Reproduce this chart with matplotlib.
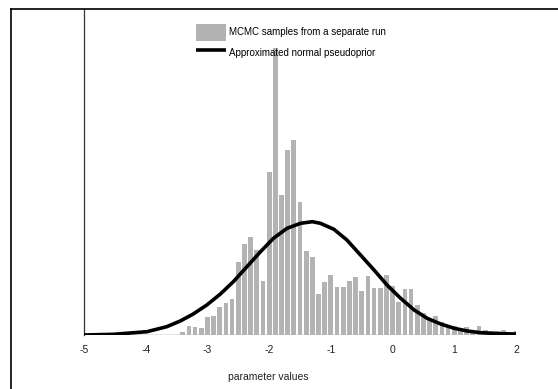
import numpy as np
import matplotlib
matplotlib.use('Agg')
import matplotlib.pyplot as plt
from matplotlib.lines import Line2D

plt.rcParams['font.family'] = ['Liberation Sans', 'DejaVu Sans']

# histogram of MCMC samples (bin width 0.1)
bin_centers = np.round(np.arange(-3.4, 2.05, 0.1), 1)
counts = [3.3, 9.3, 8.3, 7.3, 18.3, 19, 28.3, 32.3, 35.7, 73.3,
          91.3, 98, 85.3, 54.3, 163, 286.7, 140, 185, 195, 133,
          84, 78, 41, 53, 60, 48, 48, 54, 58, 44,
          59, 47, 47, 60, 49, 33, 46, 46, 30, 22,
          15, 19, 13, 10, 9, 6, 8, 4, 9, 5,
          4, 4, 5, 2, 4]

# approximated normal pseudoprior
curve_x = [-5.00, -4.52, -3.98, -3.66, -3.44, -3.23, -3.01, -2.79, -2.58, -2.36,
           -2.14, -1.93, -1.71, -1.49, -1.30, -1.17, -0.95, -0.74, -0.52, -0.30,
           -0.09, 0.13, 0.35, 0.56, 0.78, 1.00, 1.21, 1.43, 1.75, 2.00]
curve_y = [0, 0.7, 3.3, 8.3, 14, 21, 30, 41, 53.3, 68.3,
           83.3, 96.7, 106.7, 111.7, 113.3, 111.7, 105.7, 95, 80, 65,
           50, 36.7, 25, 16.7, 11, 6.7, 4, 2.3, 1.3, 1]

xticks = [-5, -4, -3, -2, -1, 0, 1, 2]
xticklabels = ['-5', '-4', '-3', '-2', '-1', '0', '1', '2']

fig = plt.figure(figsize=(5.58, 3.89), dpi=100)
ax = fig.add_axes([84/558, 1-335/389, 432/558, 326.5/389])

ax.axhline(0, color='#333333', lw=0.9, zorder=1)
bars = ax.bar(bin_centers, np.array(counts) + 1.5, bottom=-1.5, width=0.077,
              color='#b3b3b3', zorder=2)
line, = ax.plot(curve_x, curve_y, color='black', lw=2.6, zorder=3,
                solid_joinstyle='round', solid_capstyle='butt')

ax.set_xlim(-5, 2)
ax.set_ylim(0, 326.5)
ax.set_yticks([])
ax.set_xticks(xticks)
ax.set_xticklabels(xticklabels, fontsize=7.5, color='#222222')
ax.tick_params(axis='x', length=0, pad=7)
for s in ['top', 'right', 'bottom']:
    ax.spines[s].set_visible(False)
ax.spines['left'].set_color('#333333')
ax.spines['left'].set_linewidth(0.9)

ax.set_xlabel('parameter values', fontsize=7.5, color='#222222')
ax.xaxis.set_label_coords((268-84)/432, (335-376.7)/326.5)
ax.xaxis.label.set_va('center')

fig.legend([bars, line],
           ['MCMC samples from a separate run', 'Approximated normal pseudoprior'],
           loc='upper left', bbox_to_anchor=(196/558, 1-24/389), frameon=False,
           fontsize=7, borderpad=0, handlelength=3.1, handleheight=2.3,
           handletextpad=0.3, labelspacing=0.35, borderaxespad=0)

# outer chart frame (only top and left edges visible)
fig.add_artist(Line2D([10.5/558, 1], [1-8.5/389, 1-8.5/389], color='black', lw=1.2,
                      transform=fig.transFigure))
fig.add_artist(Line2D([10.5/558, 10.5/558], [0, 1-8.5/389], color='black', lw=1.2,
                      transform=fig.transFigure))

fig.savefig('out.png', dpi=100)
